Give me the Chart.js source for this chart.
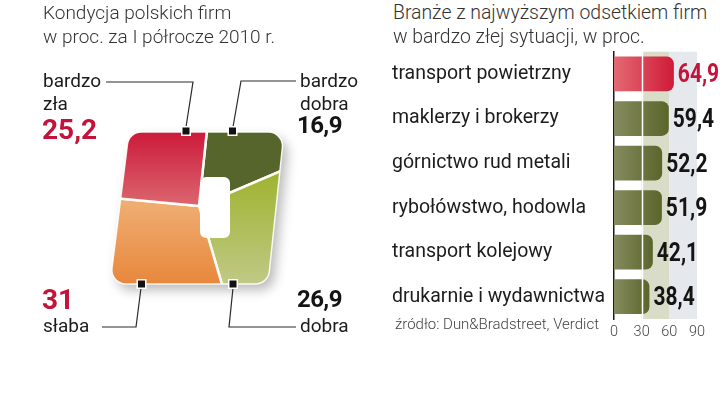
<!DOCTYPE html>
<html><head><meta charset="utf-8">
<script src="https://cdn.jsdelivr.net/npm/chart.js@4.4.1/dist/chart.umd.min.js"></script>
<style>
html,body{margin:0;padding:0;background:#fff;}
#wrap{position:relative;width:720px;height:396px;overflow:hidden;font-family:Roboto,"DejaVu Sans",sans-serif;color:#1c1c1c;}
.t{position:absolute;white-space:nowrap;}
.title{font-weight:300;font-size:19px;line-height:23.5px;color:#333;}
.lab{font-size:19px;line-height:19px;color:#1c1c1c;}
.num{font-family:Roboto,"DejaVu Sans",sans-serif;font-weight:bold;}
canvas{position:absolute;}
</style></head>
<body><div id="wrap">
<canvas id="pie" width="370" height="396" style="left:0;top:0"></canvas>
<canvas id="bar" width="340" height="310" style="left:380px;top:40px"></canvas>
<div class="t title" style="left:43px;top:1px">Kondycja polskich firm</div>
<div class="t title" style="left:43px;top:24.5px">w proc. za I półrocze 2010 r.</div>
<div class="t title" style="left:393px;top:1px;font-size:19.4px">Branże z najwyższym odsetkiem firm</div>
<div class="t title" style="left:393px;top:24.5px;font-size:19.4px">w bardzo złej sytuacji, w proc.</div>
<div class="t" style="left:395px;top:317px;font-size:15px;font-weight:300;color:#444;line-height:15px">źródło: Dun&amp;Bradstreet, Verdict</div>
</div>
<script>
// ---- data ----
const pieLabels = ['bardzo dobra', 'dobra', 'słaba', 'bardzo zła'];
const pieValues = [16.9, 26.9, 31, 25.2];
const barCategories = ['transport powietrzny', 'maklerzy i brokerzy', 'górnictwo rud metali', 'rybołówstwo, hodowla', 'transport kolejowy', 'drukarnie i wydawnictwa'];
const barValues = [64.9, 59.4, 52.2, 51.9, 42.1, 38.4];
const xTicks = [0, 30, 60, 90];

const fmt = v => String(v).replace('.', ',');
const RED = '#c4123a';

// ---- pie label layout ----
const labelLayout = [
  {i: 3, x: 43, lineTops: [71, 94], numTop: 116, numX: 42, red: true},
  {i: 0, x: 300, lineTops: [71, 94], numTop: 112.5, numX: 297, red: false},
  {i: 2, x: 43, lineTops: [316], numTop: 285.5, numX: 42, red: true},
  {i: 1, x: 300, lineTops: [316], numTop: 287, numX: 297, red: false}
];
const wrap = document.getElementById('wrap');
labelLayout.forEach(L => {
  const words = pieLabels[L.i].split(' ');
  words.forEach((w, k) => {
    const d = document.createElement('div');
    d.className = 't lab';
    d.style.left = L.x + 'px'; d.style.top = L.lineTops[k] + 'px';
    d.textContent = w;
    wrap.appendChild(d);
  });
  const n = document.createElement('div');
  n.className = 't num';
  n.style.left = L.numX + 'px'; n.style.top = L.numTop + 'px';
  if (L.red) { n.style.fontSize = '28px'; n.style.lineHeight = '28px'; n.style.color = RED; }
  else { n.style.fontSize = '24px'; n.style.lineHeight = '24px'; n.style.letterSpacing = '-0.6px'; n.style.color = '#141414'; }
  n.textContent = fmt(pieValues[L.i]);
  wrap.appendChild(n);
});

// ---- pie shape geometry (relative to pie centre) ----
const SHAPE = [[-70, -74], [85, -74], [69, 78], [-89, 78]];
const HOLE = {x: 1, y: -29, w: 30, h: 61, r: 6};
function roundPoly(ctx, cx, cy, pts, r) {
  const P = pts.map(p => [cx + p[0], cy + p[1]]);
  const n = P.length;
  ctx.moveTo((P[0][0] + P[1][0]) / 2, (P[0][1] + P[1][1]) / 2);
  for (let k = 1; k <= n; k++) {
    const p = P[k % n], q = P[(k + 1) % n];
    ctx.arcTo(p[0], p[1], q[0], q[1], r);
  }
  ctx.closePath();
}
function holePath(ctx, cx, cy) {
  ctx.roundRect(cx + HOLE.x, cy + HOLE.y, HOLE.w, HOLE.h, HOLE.r);
}
const sliceGrad = [
  ['#56652b', '#7c8560', -74, -10],  // bardzo dobra (olive)
  ['#a0b432', '#c0c986', -30, 78],   // dobra (green)
  ['#f0b077', '#e8873c', -10, 78],   // słaba (orange)
  ['#cc1a3a', '#dc6670', -74, 0]     // bardzo zła (red)
];
const leaders = [
  [[-93, -124], [-6, -124], [-13, -79]],
  [[97, -125], [42, -125], [34, -79]],
  [[-97, 121], [-63, 121], [-58, 82]],
  [[97, 121], [30, 121], [34, 82]]
];
const tabs = [[-13, -75], [33.5, -75], [-57.5, 78], [34, 78]];

const shapePlugin = {
  id: 'shape',
  beforeDatasetsDraw(chart) {
    const a = chart.getDatasetMeta(0).data[0];
    const cx = a.x, cy = a.y, ctx = chart.ctx;
    ctx.save();
    ctx.shadowColor = 'rgba(0,0,0,0.28)';
    ctx.shadowBlur = 12; ctx.shadowOffsetX = 5; ctx.shadowOffsetY = 6;
    ctx.beginPath(); roundPoly(ctx, cx, cy, SHAPE, 14);
    ctx.fillStyle = '#fff'; ctx.fill();
    ctx.restore();
    ctx.save();
    ctx.beginPath(); roundPoly(ctx, cx, cy, SHAPE, 14); holePath(ctx, cx, cy);
    ctx.clip('evenodd');
  },
  afterDatasetsDraw(chart) {
    const ctx = chart.ctx;
    ctx.restore();
    const a = chart.getDatasetMeta(0).data[0];
    const cx = a.x, cy = a.y;
    ctx.save();
    ctx.beginPath(); roundPoly(ctx, cx, cy, SHAPE, 14);
    ctx.strokeStyle = 'rgba(255,255,250,0.9)'; ctx.lineWidth = 1.5; ctx.stroke();
    ctx.strokeStyle = '#2a2a2a'; ctx.lineWidth = 1.2;
    leaders.forEach(L => {
      ctx.beginPath();
      L.forEach((p, k) => k ? ctx.lineTo(cx + p[0], cy + p[1]) : ctx.moveTo(cx + p[0], cy + p[1]));
      ctx.stroke();
    });
    tabs.forEach(t => {
      ctx.fillStyle = '#fff';
      ctx.fillRect(cx + t[0] - 5, cy + t[1] - 5, 10, 10);
      ctx.fillStyle = '#111';
      ctx.fillRect(cx + t[0] - 3.5, cy + t[1] - 3.5, 7, 7);
    });
    ctx.restore();
  }
};

new Chart(document.getElementById('pie'), {
  type: 'pie',
  data: {
    labels: pieLabels,
    datasets: [{
      data: pieValues,
      backgroundColor: c => {
        const chart = c.chart;
        const g = sliceGrad[c.dataIndex];
        const el = chart.getDatasetMeta(0).data[0];
        if (!el || !chart.chartArea || !Number.isFinite(el.y)) return g[0];
        const gr = chart.ctx.createLinearGradient(0, el.y + g[2], 0, el.y + g[3]);
        gr.addColorStop(0, g[0]); gr.addColorStop(1, g[1]);
        return gr;
      },
      borderColor: '#fffdf6',
      borderWidth: 2.5
    }]
  },
  options: {
    responsive: false, animation: false, devicePixelRatio: 1,
    rotation: 6,
    layout: {padding: {left: 64, right: 36, top: 71, bottom: 55}},
    plugins: {legend: {display: false}, tooltip: {enabled: false}}
  },
  plugins: [shapePlugin]
});

// ---- bar chart ----
const bandsPlugin = {
  id: 'bands',
  beforeDatasetsDraw(chart) {
    const {ctx, chartArea: ca, scales: {x}} = chart;
    ctx.save();
    ctx.fillStyle = '#d9dcc6';
    ctx.fillRect(x.getPixelForValue(xTicks[1]), ca.top, x.getPixelForValue(xTicks[2]) - x.getPixelForValue(xTicks[1]), ca.bottom - ca.top);
    ctx.fillStyle = '#e5e8ec';
    ctx.fillRect(x.getPixelForValue(xTicks[2]), ca.top, x.getPixelForValue(xTicks[3]) - x.getPixelForValue(xTicks[2]), ca.bottom - ca.top);
    ctx.restore();
  },
  afterDatasetsDraw(chart) {
    const {ctx, chartArea: ca, scales: {x}} = chart;
    ctx.save();
    const gx = Math.round(x.getPixelForValue(xTicks[1])) + 0.5;
    ctx.strokeStyle = '#fff'; ctx.lineWidth = 1.5;
    ctx.beginPath(); ctx.moveTo(gx, ca.top); ctx.lineTo(gx, ca.bottom); ctx.stroke();
    const meta = chart.getDatasetMeta(0);
    ctx.font = 'bold 25px Roboto, "DejaVu Sans", sans-serif';
    ctx.textAlign = 'left'; ctx.textBaseline = 'alphabetic';
    meta.data.forEach((el, i) => {
      ctx.save();
      ctx.translate(el.x + 4, el.y + 8.5);
      ctx.scale(0.84, 1);
      ctx.fillStyle = i === 0 ? RED : '#141414';
      ctx.fillText(fmt(barValues[i]), 0, 0);
      ctx.restore();
    });
    ctx.restore();
  }
};

new Chart(document.getElementById('bar'), {
  type: 'bar',
  data: {
    labels: barCategories,
    datasets: [{
      data: barValues,
      backgroundColor: c => {
        const chart = c.chart;
        const fallback = c.dataIndex === 0 ? '#d83848' : '#6b7440';
        if (!chart.chartArea || !chart.scales.x) return fallback;
        const x = chart.scales.x;
        const x0 = x.getPixelForValue(0), x1 = x.getPixelForValue(c.raw);
        if (!Number.isFinite(x0) || !Number.isFinite(x1)) return fallback;
        const gr = chart.ctx.createLinearGradient(x0, 0, x1, 0);
        if (c.dataIndex === 0) { gr.addColorStop(0, '#e36a72'); gr.addColorStop(1, '#cf1a38'); }
        else { gr.addColorStop(0, '#868b5e'); gr.addColorStop(1, '#5a652b'); }
        return gr;
      },
      borderRadius: 7,
      borderSkipped: 'start',
      barPercentage: 0.78,
      categoryPercentage: 1
    }]
  },
  options: {
    indexAxis: 'y',
    responsive: false, animation: false, devicePixelRatio: 1,
    layout: {padding: {left: 12, top: 11, right: 23, bottom: 9}},
    plugins: {legend: {display: false}, tooltip: {enabled: false}},
    scales: {
      x: {
        min: xTicks[0], max: xTicks[xTicks.length - 1],
        afterBuildTicks: s => { s.ticks = xTicks.map(v => ({value: v})); },
        ticks: {font: {family: 'Roboto', size: 14.5, weight: 300}, color: '#444', padding: 5, maxRotation: 0, autoSkip: false},
        grid: {display: false, drawTicks: false},
        border: {display: false},
        afterFit: s => { s.height = 22; }
      },
      y: {
        ticks: {crossAlign: 'far', font: {family: 'Roboto', size: 19.5}, color: '#1c1c1c', padding: 0},
        grid: {display: false, drawTicks: false},
        border: {display: true, color: '#1a1a1a', width: 1.5},
        afterFit: s => { s.width = 222; }
      }
    }
  },
  plugins: [bandsPlugin]
});
</script>
</body></html>
